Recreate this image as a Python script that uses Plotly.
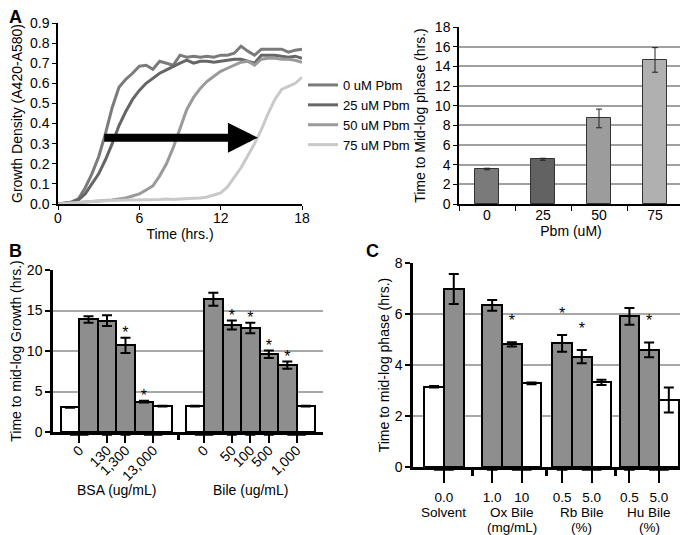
import plotly.graph_objects as go

FONT = "Arial, 'Liberation Sans', sans-serif"
W, H = 688, 535
OFF = 8  # the page body adds an 8px margin around the figure

# ============================================
# Data
# ============================================

# A (left): growth curves
time_hrs = [0, 0.5, 1, 1.5, 2, 2.5, 3, 3.5, 4, 4.5, 5, 5.5, 6, 6.5, 7, 7.5, 8, 8.5, 9,
            9.5, 10, 10.5, 11, 11.5, 12, 12.5, 13, 13.5, 14, 14.5, 15, 15.5, 16, 16.5,
            17, 17.5, 18]
od_0uM = [0.0, 0.005, 0.01, 0.025, 0.08, 0.15, 0.235, 0.35, 0.48, 0.58, 0.62, 0.65,
          0.685, 0.69, 0.67, 0.71, 0.70, 0.69, 0.74, 0.73, 0.735, 0.73, 0.735, 0.73,
          0.74, 0.74, 0.75, 0.785, 0.76, 0.74, 0.77, 0.77, 0.77, 0.77, 0.755, 0.765, 0.77]
od_25uM = [0.0, 0.003, 0.008, 0.02, 0.05, 0.1, 0.15, 0.22, 0.30, 0.39, 0.46, 0.52,
           0.565, 0.6, 0.625, 0.65, 0.667, 0.685, 0.70, 0.715, 0.70, 0.71, 0.71, 0.705,
           0.71, 0.715, 0.72, 0.72, 0.71, 0.70, 0.74, 0.74, 0.74, 0.735, 0.73, 0.735, 0.725]
od_50uM = [0.0, 0.003, 0.006, 0.008, 0.01, 0.012, 0.015, 0.018, 0.02, 0.025, 0.03, 0.04,
           0.05, 0.07, 0.09, 0.14, 0.2, 0.28, 0.38, 0.47, 0.53, 0.575, 0.61, 0.635,
           0.66, 0.675, 0.69, 0.705, 0.71, 0.69, 0.72, 0.725, 0.725, 0.72, 0.72, 0.715, 0.705]
od_75uM = [0.0, 0.003, 0.006, 0.008, 0.01, 0.012, 0.015, 0.016, 0.018, 0.018, 0.02, 0.02,
           0.02, 0.02, 0.022, 0.022, 0.025, 0.022, 0.025, 0.028, 0.028, 0.03, 0.035, 0.045,
           0.055, 0.085, 0.13, 0.18, 0.24, 0.3, 0.37, 0.45, 0.52, 0.57, 0.585, 0.6, 0.63]
curve_names = ["0 uM Pbm", "25 uM Pbm", "50 uM Pbm", "75 uM Pbm"]
curve_data = [od_0uM, od_25uM, od_50uM, od_75uM]
curve_colors = ["#7b7b7b", "#666666", "#9a9a9a", "#c9c9c9"]

# A (right): time to mid-log phase
pbm_doses = ["0", "25", "50", "75"]
midlog_hrs = [3.56, 4.55, 8.7, 14.65]
midlog_err = [0.08, 0.1, 0.95, 1.25]
midlog_colors = ["#7a7a7a", "#626262", "#9c9c9c", "#b0b0b0"]

# B: BSA / bile (first and last bar of each group are untreated controls)
bsa_values = [3.05, 13.9, 13.75, 10.7, 3.75, 3.2]
bsa_errors = [0.05, 0.4, 0.65, 0.95, 0.1, 0.05]
bsa_star = [False, False, False, True, True, False]
bsa_labels = ["0", "130", "1,300", "13,000"]
bsa_label_bars = [[0, 1], [2], [3], [4, 5]]

bile_values = [3.2, 16.4, 13.2, 12.85, 9.6, 8.25, 3.2]
bile_errors = [0.05, 0.8, 0.55, 0.65, 0.45, 0.45, 0.05]
bile_star = [False, False, True, True, True, True, False]
bile_labels = ["0", "50", "100", "500", "1,000"]
bile_label_bars = [[0, 1], [2], [3], [4], [5, 6]]

b_groups = ["BSA (ug/mL)", "Bile (ug/mL)"]

# C: bile sources
c_groups = ["Solvent", "Ox Bile", "Rb Bile", "Hu Bile"]
c_units = ["", "(mg/mL)", "(%)", "(%)"]
c_values = [[3.15, 6.98], [6.34, 4.81, 3.28], [4.85, 4.33, 3.32], [5.91, 4.59, 2.63]]
c_errors = [[0.03, 0.59], [0.21, 0.08, 0.03], [0.33, 0.26, 0.1], [0.33, 0.29, 0.49]]
c_control = [[True, False], [False, False, True], [False, False, True], [False, False, True]]
c_star = [[False, False], [False, True, False], [True, True, False], [False, True, False]]
c_labels = [["0.0"], ["1.0", "10"], ["0.5", "5.0"], ["0.5", "5.0"]]
c_label_bars = [[[0, 1]], [[0], [1, 2]], [[0], [1, 2]], [[0], [1, 2]]]

# layout of the bar groups (bar width = 1 unit)
B_GROUP_START = [0, 6.75]
C_GROUP_START = [0, 2.95, 6.5, 9.92]
GRAY = "#8e8e8e"


def px(x):
    return (x - OFF) / W


def py(y):
    return 1 - (y - OFF) / H


def xdom(x0, x1):
    return [px(x0), px(x1)]


def ydom(top, bottom):
    return [py(bottom), py(top)]


fig = go.Figure()
annotations = []
shapes = []

# ============================================
# A: curves
# ============================================
for name, ys, col in zip(curve_names, curve_data, curve_colors):
    fig.add_trace(go.Scatter(
        x=time_hrs, y=ys, mode="lines", name=name,
        line=dict(color=col, width=3), xaxis="x", yaxis="y"
    ))

annotations.append(dict(
    x=14.75, y=0.33, ax=3.3, ay=0.33, xref="x", yref="y", axref="x", ayref="y",
    text="", showarrow=True, arrowhead=2, arrowsize=0.75, arrowwidth=8, arrowcolor="black"
))

# ============================================
# A: bar chart
# ============================================
fig.add_trace(go.Bar(
    x=pbm_doses, y=midlog_hrs, width=0.43,
    marker=dict(color=midlog_colors, line=dict(color="#333333", width=1)),
    error_y=dict(type="data", array=midlog_err, color="#222222", thickness=1, width=3),
    xaxis="x2", yaxis="y2", showlegend=False
))


# ============================================
# B / C helpers
# ============================================
def add_group_bars(xname, yname, start, values, errors, control, label_bars, labels,
                   stars, star_shift, tick_pos, tick_text, t_spans):
    xs = [start + i for i in range(len(values))]
    fig.add_trace(go.Bar(
        x=xs, y=values, width=1,
        marker=dict(color=["white" if c else GRAY for c in control],
                    line=dict(color="black", width=2)),
        error_y=dict(type="data", array=errors, color="black", thickness=2, width=5),
        xaxis=xname, yaxis=yname, showlegend=False
    ))
    # significance stars, lifted by a fixed axis offset above the error bar
    sx = [x for x, s in zip(xs, stars) if s]
    sy = [v + e + star_shift for v, e, s in zip(values, errors, stars) if s]
    if sx:
        fig.add_trace(go.Scatter(
            x=sx, y=sy, mode="text", text=["*"] * len(sx), textposition="middle center",
            textfont=dict(size=16, color="black"), cliponaxis=False,
            xaxis=xname, yaxis=yname, showlegend=False, hoverinfo="skip"
        ))
    for lab, bars in zip(labels, label_bars):
        pos = [xs[b] for b in bars]
        tick_pos.append(sum(pos) / len(pos))
        tick_text.append(lab)
        if len(pos) > 1:
            t_spans.append((min(pos), max(pos)))
        else:
            t_spans.append((pos[0] - 0.27, pos[0] + 0.27))
    return xs


def t_shapes(xname, spans, dom_h, offset_px):
    for a, b in spans:
        shapes.append(dict(
            type="line", xref=xname, yref=xname.replace("x", "y") + " domain",
            x0=a, x1=b, y0=-offset_px / dom_h, y1=-offset_px / dom_h,
            line=dict(color="black", width=1.5)
        ))


# B  (8.1 px per unit)
b_ticks, b_text, b_spans, b_centers, b_ends = [], [], [], [], []
for start, vals, errs, stars, labs, lbars in zip(
        B_GROUP_START, [bsa_values, bile_values], [bsa_errors, bile_errors],
        [bsa_star, bile_star], [bsa_labels, bile_labels], [bsa_label_bars, bile_label_bars]):
    ctrl = [i in (0, len(vals) - 1) for i in range(len(vals))]
    xs = add_group_bars("x3", "y3", start, vals, errs, ctrl, lbars, labs, stars, 0.45,
                        b_ticks, b_text, b_spans)
    b_centers.append((xs[0] + xs[-1]) / 2)
    b_ends.append((xs[0], xs[-1]))
b_sep = [(b_ends[0][1] + b_ends[1][0]) / 2]
t_shapes("x3", b_spans, 162, 3)
for name, cx in zip(b_groups, b_centers):
    annotations.append(dict(x=cx, y=py(490), xref="x3", yref="paper", text=name,
                            showarrow=False, xanchor="center", yanchor="middle",
                            font=dict(size=14, color="black")))

# C  (25.5 px per unit)
c_ticks, c_text, c_spans, c_ends = [], [], [], []
for gi, start in enumerate(C_GROUP_START):
    xs = add_group_bars("x4", "y4", start, c_values[gi], c_errors[gi], c_control[gi],
                        c_label_bars[gi], c_labels[gi], c_star[gi], 0.8,
                        c_ticks, c_text, c_spans)
    c_ends.append((xs[0], xs[-1]))
    cx = (xs[0] + xs[-1]) / 2
    for txt, ty in [(c_groups[gi], 512), (c_units[gi], 527)]:
        if txt:
            annotations.append(dict(x=cx, y=py(ty), xref="x4", yref="paper",
                                    text=txt, showarrow=False, xanchor="center",
                                    yanchor="middle", font=dict(size=13.5, color="black")))
c_sep = [(c_ends[i][1] + c_ends[i + 1][0]) / 2 for i in range(len(c_ends) - 1)]
t_shapes("x4", c_spans, 204, 3)

# panel letters
for letter, lx, ly in [("A", 15, 17), ("B", 15, 251), ("C", 372, 251)]:
    annotations.append(dict(x=px(lx), y=py(ly), xref="paper", yref="paper",
                            text=f"<b>{letter}</b>", showarrow=False,
                            xanchor="center", yanchor="middle",
                            font=dict(size=18, color="black")))

# ============================================
# Layout
# ============================================
TF = dict(size=14, color="black")
AX = dict(showline=True, linecolor="black", ticks="outside", tickcolor="black",
          tickfont=TF, zeroline=False, showgrid=False, automargin=False)

fig.update_layout(
    width=W, height=H,
    margin=dict(l=0, r=0, t=0, b=0, autoexpand=False),
    paper_bgcolor="white", plot_bgcolor="white",
    font=dict(family=FONT, color="black", size=14),
    bargap=0,
    legend=dict(x=px(303), y=py(70), xanchor="left", yanchor="top",
                font=dict(size=13), bgcolor="rgba(0,0,0,0)", tracegroupgap=0),
    # A left
    xaxis=dict(AX, domain=xdom(58, 302), range=[0, 18], tickvals=[0, 6, 12, 18],
               ticklen=4, linewidth=1.5, anchor="y", ticklabelstandoff=-4,
               title=dict(text="Time (hrs.)", font=TF, standoff=1)),
    yaxis=dict(AX, domain=ydom(23, 204), range=[0, 0.9], dtick=0.1, tickformat=".1f",
               ticklen=4, linewidth=1.5, anchor="x",
               title=dict(text="Growth Density (A420-A580)", font=TF, standoff=4)),
    # A right
    xaxis2=dict(AX, domain=xdom(459, 683), type="category", tickson="boundaries",
                ticklen=5, linewidth=1.5, anchor="y2", ticklabelstandoff=-3,
                title=dict(text="Pbm (uM)", font=TF, standoff=0)),
    yaxis2=dict(AX, domain=ydom(27, 204), range=[0, 18], dtick=2, ticklen=4,
                linewidth=1.5, showgrid=True, gridcolor="#a0a0a0", gridwidth=1.5, anchor="x2",
                title=dict(text="Time to Mid-log phase (hrs.)", font=TF, standoff=6)),
    # B
    xaxis3=dict(AX, domain=xdom(53, 323), range=[-0.92, 13.68], tickvals=b_ticks,
                ticktext=b_text, tickangle=-45, ticklen=8, tickwidth=1.5, linewidth=2.5,
                ticklabelstandoff=-6, anchor="y3",
                minor=dict(tickvals=b_sep, ticks="outside", ticklen=5, tickwidth=2.5,
                           tickcolor="black")),
    yaxis3=dict(AX, domain=ydom(270, 432), range=[0, 20], dtick=5, ticklen=5, tickwidth=2,
                linewidth=2.5, showgrid=True, gridcolor="#a8a8a8", gridwidth=2, anchor="x3",
                title=dict(text="Time to mid-log Growth (hrs.)", font=TF, standoff=4)),
    # C
    xaxis4=dict(AX, domain=xdom(413, 683), range=[-1.07, 12.64], tickvals=c_ticks,
                ticktext=c_text, ticklen=13, tickwidth=1.5, linewidth=2.5,
                ticklabelstandoff=3, anchor="y4", tickfont=dict(size=13.5, color="black"),
                minor=dict(tickvals=c_sep, ticks="outside", ticklen=6, tickwidth=2.5,
                           tickcolor="black")),
    yaxis4=dict(AX, domain=ydom(263, 467), range=[0, 8], dtick=2, ticklen=5, tickwidth=2,
                linewidth=2.5, showgrid=True, gridcolor="#a8a8a8", gridwidth=2, anchor="x4",
                title=dict(text="Time to mid-log phase (hrs.)", font=TF, standoff=2)),
    annotations=annotations,
    shapes=shapes,
)

fig.write_html("out.html")
